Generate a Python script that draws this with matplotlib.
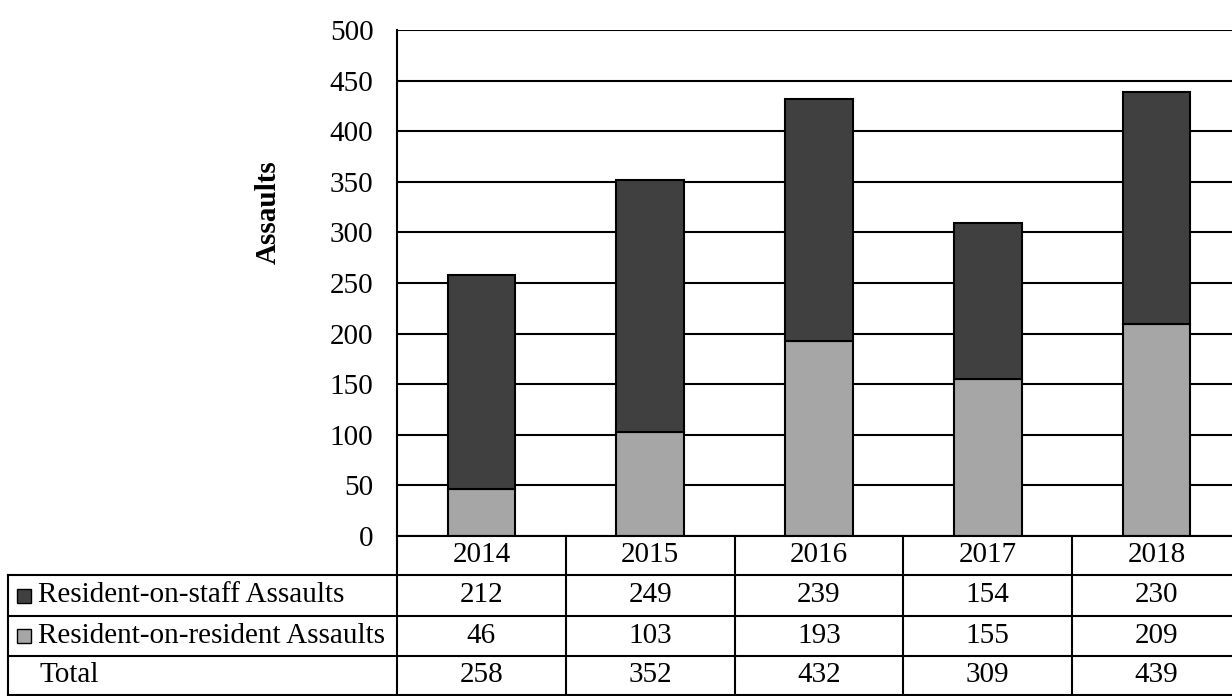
import matplotlib
matplotlib.use('Agg')
import matplotlib.pyplot as plt
import matplotlib.transforms as mtransforms
from matplotlib.patches import Rectangle

years = ['2014', '2015', '2016', '2017', '2018']
staff = [212, 249, 239, 154, 230]
resident = [46, 103, 193, 155, 209]
total = [258, 352, 432, 309, 439]

row_labels = ['Resident-on-staff Assaults', 'Resident-on-resident Assaults', 'Total']
row_values = [staff, resident, total]
row_colors = ['#404040', '#a6a6a6', None]

plt.rcParams['font.family'] = ['Liberation Serif', 'DejaVu Serif']
FS = 21

W, H = 1232, 696
fig = plt.figure(figsize=(W / 100, H / 100), dpi=100)


def fx(px):
    return px / W


def fy(py):
    return 1 - py / H


# plot area runs past the right edge, like the exported sheet
ax = fig.add_axes([fx(397), fy(536), fx(1241) - fx(397), fy(30) - fy(536)])
xs = list(range(len(years)))
ax.bar(xs, resident, width=0.4, color='#a6a6a6', edgecolor='black', lw=1.5, zorder=3)
ax.bar(xs, staff, width=0.4, bottom=resident, color='#404040', edgecolor='black', lw=1.5, zorder=3)
ax.set_xlim(-0.5, len(years) - 0.5)
ax.set_ylim(0, 500)
ax.set_yticks(range(0, 501, 50))
ax.set_xticks([])
ax.yaxis.grid(True, color='black', lw=1.5)
ax.set_axisbelow(True)
ax.tick_params(axis='y', length=0, labelsize=FS, pad=17)
for s in ['top', 'right', 'bottom']:
    ax.spines[s].set_visible(False)
ax.spines['left'].set_linewidth(1.5)

fig.text(fx(268), fy(212), 'Assaults', rotation=90, fontsize=FS, fontweight='bold',
         ha='center', va='center')

# data table under the plot
trans = mtransforms.blended_transform_factory(ax.transData, fig.transFigure)
lw = 1.5
row_edges = [536, 575, 616, 656, 695]


def hline(y, x0, x1):
    fig.add_artist(plt.Line2D([fx(x0), fx(x1)], [fy(y), fy(y)], color='black', lw=lw))


def vline(x, y0, y1):
    fig.add_artist(plt.Line2D([fx(x), fx(x)], [fy(y0), fy(y1)], color='black', lw=lw))


hline(536, 397, W)
for y in row_edges[1:]:
    hline(y, 8, W)
vline(8, 575, 695)
vline(397, 536, 695)
for i in range(len(years) - 1):
    ax.plot([i + 0.5, i + 0.5], [fy(536), fy(695)], transform=trans, color='black',
            lw=lw, clip_on=False)

for i, yr in enumerate(years):
    ax.text(i, fy((row_edges[0] + row_edges[1]) / 2), yr, transform=trans,
            ha='center', va='center', fontsize=FS)

for r, (label, vals, col) in enumerate(zip(row_labels, row_values, row_colors)):
    yc = (row_edges[r + 1] + row_edges[r + 2]) / 2
    if col is not None:
        fig.add_artist(Rectangle((fx(17), fy(yc + 7)), fx(14), 14 / H, facecolor=col,
                                 edgecolor='black', lw=1.0, transform=fig.transFigure))
        fig.text(fx(38), fy(yc), label, ha='left', va='center', fontsize=FS)
    else:
        fig.text(fx(40), fy(yc), label, ha='left', va='center', fontsize=FS)
    for i, v in enumerate(vals):
        ax.text(i, fy(yc), str(v), transform=trans, ha='center', va='center', fontsize=FS)

fig.savefig('out.png', dpi=100)
